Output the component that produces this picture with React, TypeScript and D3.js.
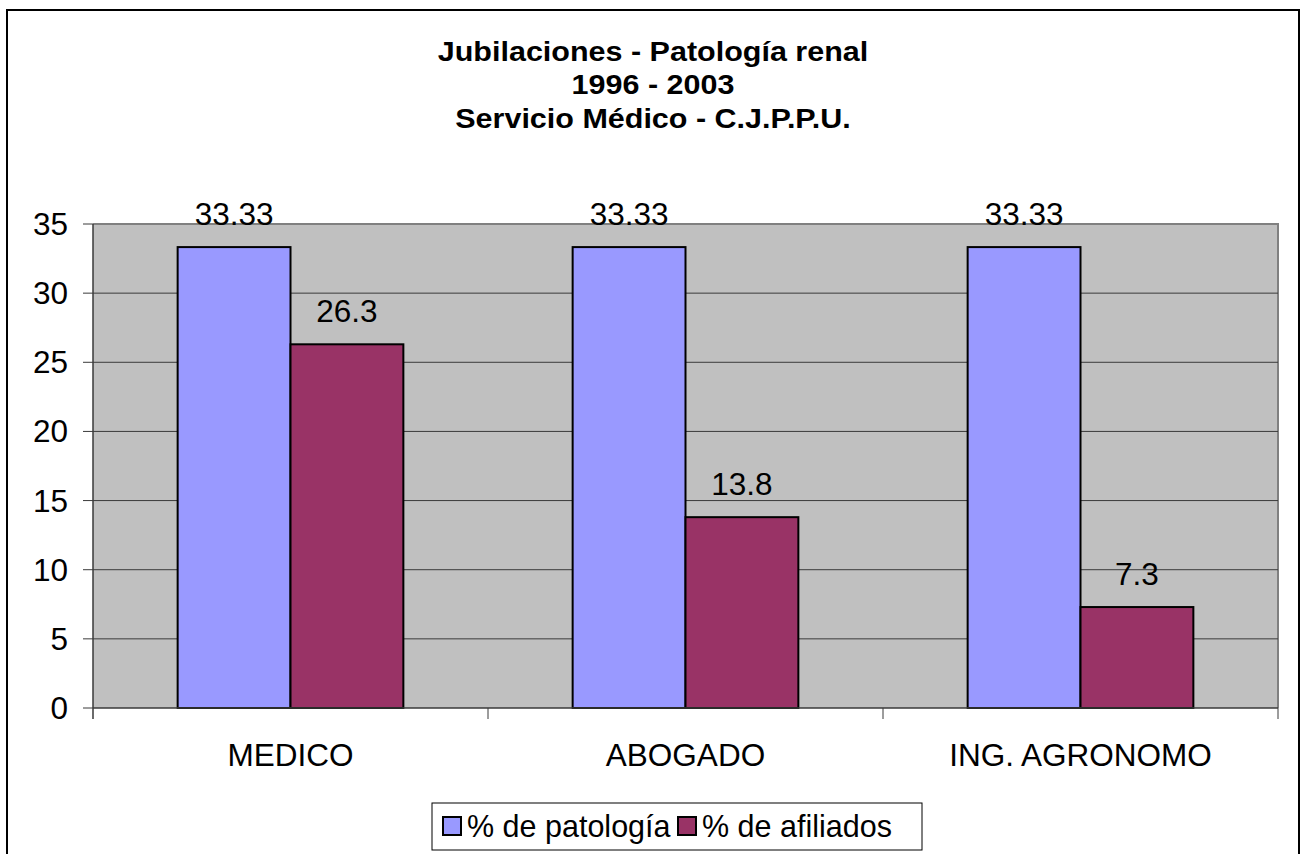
import { useMemo } from "react";
import * as d3 from "d3";

// Chart size and plot box
const WIDTH = 1306;
const HEIGHT = 854;
const PLOT = { left: 93, top: 224, right: 1278, bottom: 708 };
const FONT = "Liberation Sans, Arial, Helvetica, sans-serif";
const TEXT_SIZE = 31.5;
// the original title font is a little stretched horizontally
const TITLE_STRETCH = 1.13;

const categories = ["MEDICO", "ABOGADO", "ING. AGRONOMO"];
const seriesNames = ["% de patología", "% de afiliados"];
const patologia = [33.33, 33.33, 33.33];
const afiliados = [26.3, 13.8, 7.3];
const yTicks = [0, 5, 10, 15, 20, 25, 30, 35];
const titleLines = ["Jubilaciones - Patología renal", "1996 - 2003", "Servicio Médico - C.J.P.P.U."];
const colors = ["#9999FF", "#993366"];

export default function App() {
  const series = [patologia, afiliados];

  const xScale = useMemo(
    () => d3.scaleBand<string>().domain(categories).range([PLOT.left, PLOT.right]).padding(0),
    []
  );
  const xInner = useMemo(
    () =>
      d3
        .scaleBand<string>()
        .domain(seriesNames)
        .range([0, xScale.bandwidth()])
        .paddingInner(0)
        .paddingOuter(0.75),
    [xScale]
  );
  const yScale = useMemo(
    () => d3.scaleLinear().domain([0, 35]).range([PLOT.bottom, PLOT.top]),
    []
  );

  return (
    <svg
      width={WIDTH}
      height={HEIGHT}
      style={{ position: "absolute", left: 0, top: 0, background: "#fff" }}
      fontFamily={FONT}
    >
      {/* outer chart border */}
      <rect x={7} y={10} width={1292} height={860} fill="#fff" stroke="#000" strokeWidth={2} />

      {/* title */}
      <g transform={`translate(653,0) scale(${TITLE_STRETCH},1)`}>
        {titleLines.map((line, i) => (
          <text
            key={line}
            x={0}
            y={61 + i * 33.5}
            textAnchor="middle"
            fontSize={27}
            fontWeight="bold"
            fill="#000"
          >
            {line}
          </text>
        ))}
      </g>

      {/* plot background */}
      <rect
        x={PLOT.left}
        y={PLOT.top}
        width={PLOT.right - PLOT.left}
        height={PLOT.bottom - PLOT.top}
        fill="#C0C0C0"
      />
      {/* gray border on top and right */}
      <path
        d={`M${PLOT.left},${PLOT.top}H${PLOT.right}V${PLOT.bottom}`}
        fill="none"
        stroke="#808080"
        strokeWidth={2}
      />

      {/* gridlines, ticks and y labels */}
      {yTicks.map((t) => (
        <g key={t}>
          {t > 0 && t < 35 && (
            <line x1={PLOT.left} x2={PLOT.right} y1={yScale(t)} y2={yScale(t)} stroke="#3a3a3a" strokeWidth={1} />
          )}
          <line x1={PLOT.left - 10} x2={PLOT.left} y1={yScale(t)} y2={yScale(t)} stroke="#3a3a3a" strokeWidth={1} />
          <text x={68} y={yScale(t) + 11} textAnchor="end" fontSize={TEXT_SIZE} fill="#000">
            {t}
          </text>
        </g>
      ))}

      {/* bars */}
      {categories.map((c, ci) => (
        <g key={c} transform={`translate(${xScale(c)},0)`}>
          {seriesNames.map((s, si) => {
            const v = series[si][ci];
            const x = xInner(s) ?? 0;
            return (
              <g key={s}>
                <rect
                  x={x}
                  y={yScale(v)}
                  width={xInner.bandwidth()}
                  height={yScale(0) - yScale(v)}
                  fill={colors[si]}
                  stroke="#000"
                  strokeWidth={2}
                />
                <text
                  x={x + xInner.bandwidth() / 2}
                  y={yScale(v) - 22}
                  textAnchor="middle"
                  fontSize={TEXT_SIZE}
                  fill="#000"
                >
                  {v}
                </text>
              </g>
            );
          })}
        </g>
      ))}

      {/* axes */}
      <line x1={PLOT.left} x2={PLOT.left} y1={PLOT.top} y2={PLOT.bottom + 11} stroke="#3a3a3a" strokeWidth={1.5} />
      <line x1={PLOT.left} x2={PLOT.right} y1={PLOT.bottom} y2={PLOT.bottom} stroke="#3a3a3a" strokeWidth={1.5} />
      {categories.map((c) => (
        <g key={c}>
          <line
            x1={(xScale(c) ?? 0) + xScale.bandwidth()}
            x2={(xScale(c) ?? 0) + xScale.bandwidth()}
            y1={PLOT.bottom}
            y2={PLOT.bottom + 11}
            stroke="#3a3a3a"
            strokeWidth={1}
          />
          <text
            x={(xScale(c) ?? 0) + xScale.bandwidth() / 2}
            y={766}
            textAnchor="middle"
            fontSize={TEXT_SIZE}
            fill="#000"
          >
            {c}
          </text>
        </g>
      ))}

      {/* legend */}
      <rect x={432} y={803} width={490} height={47} fill="#fff" stroke="#000" strokeWidth={1} />
      {seriesNames.map((s, i) => {
        const lx = i === 0 ? 443 : 678;
        return (
          <g key={s}>
            <rect x={lx} y={817} width={18} height={18} fill={colors[i]} stroke="#000" strokeWidth={2} />
            <text x={lx + 24} y={837} fontSize={TEXT_SIZE - 1} fill="#000">
              {s}
            </text>
          </g>
        );
      })}
    </svg>
  );
}
